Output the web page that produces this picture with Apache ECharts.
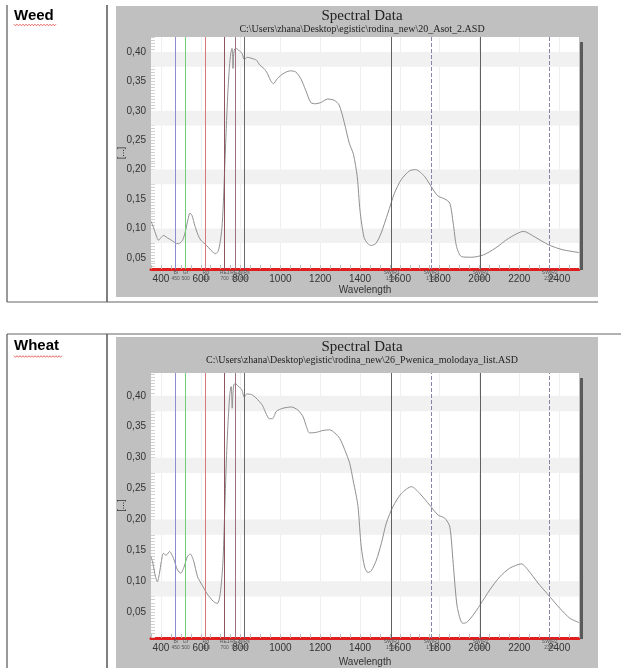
<!DOCTYPE html>
<html><head><meta charset="utf-8">
<script src="https://cdn.jsdelivr.net/npm/echarts@6.0.0/dist/echarts.min.js"></script>
<style>html,body{margin:0;padding:0;background:#fff}#c{width:621px;height:668px}</style>
</head><body><div id="c"></div>
<script>
// ---------------- data ----------------
const weedWavelength = [350,360,372,388,400,412,420,432,448,465,480,495,510,522,535,546,556,570,585,600,620,640,660,675,688,698,706,713,720,728,736,744,751,757,760,762,765,770,777,790,807,819,833,858,880,896,917,934,950,965,985,1018,1050,1077,1102,1127,1153,1178,1203,1237,1270,1295,1321,1346,1367,1386,1400,1420,1439,1456,1481,1506,1540,1573,1607,1649,1680,1725,1767,1792,1826,1851,1868,1885,1910,1961,2020,2078,2146,2222,2280,2348,2415,2500];
const weedReflectance = [0.112,0.104,0.092,0.080,0.084,0.088,0.087,0.084,0.081,0.077,0.074,0.075,0.081,0.094,0.114,0.126,0.122,0.105,0.090,0.080,0.074,0.067,0.060,0.057,0.062,0.078,0.100,0.140,0.200,0.270,0.330,0.375,0.398,0.406,0.395,0.372,0.395,0.405,0.406,0.403,0.398,0.387,0.391,0.389,0.386,0.378,0.372,0.364,0.352,0.346,0.355,0.364,0.368,0.366,0.355,0.335,0.314,0.312,0.314,0.320,0.318,0.310,0.280,0.245,0.226,0.188,0.130,0.085,0.074,0.071,0.075,0.092,0.126,0.160,0.183,0.198,0.200,0.188,0.166,0.155,0.150,0.143,0.109,0.069,0.052,0.051,0.055,0.066,0.083,0.095,0.085,0.072,0.064,0.059];

const wheatWavelength = [350,360,372,382,392,402,412,426,443,463,483,500,516,533,547,563,584,606,631,664,684,698,711,720,728,736,744,750,753,756,758,761,766,773,790,806,818,831,856,873,894,911,927,944,960,980,1013,1055,1088,1114,1131,1146,1181,1214,1248,1273,1298,1323,1348,1365,1380,1390,1406,1423,1440,1457,1482,1507,1532,1566,1608,1658,1700,1750,1792,1826,1851,1868,1888,1915,1935,1968,2002,2052,2102,2152,2211,2244,2294,2345,2404,2454,2500];
const wheatReflectance = [0.140,0.128,0.108,0.099,0.112,0.132,0.145,0.142,0.148,0.137,0.118,0.113,0.123,0.140,0.144,0.134,0.107,0.094,0.080,0.067,0.064,0.080,0.129,0.210,0.290,0.350,0.395,0.413,0.415,0.395,0.380,0.400,0.418,0.420,0.415,0.410,0.398,0.403,0.402,0.398,0.391,0.384,0.372,0.363,0.363,0.375,0.380,0.382,0.377,0.366,0.350,0.340,0.341,0.344,0.345,0.340,0.331,0.313,0.291,0.264,0.240,0.221,0.156,0.123,0.114,0.117,0.134,0.161,0.194,0.221,0.242,0.253,0.242,0.223,0.207,0.202,0.188,0.129,0.059,0.032,0.033,0.045,0.061,0.086,0.107,0.121,0.128,0.118,0.097,0.078,0.056,0.040,0.033];

const bandPositions = [474,524,625,720,773,818,1559,1760,2006,2353];
const bandNames = ['Bl','Gr','Rd','RE1','RE2','NIRs','SWIR1','SWIR1','SWIR2','SWIR2'];
const bandCentres = ['450','500','610','700','750','800','1550','1750','2080','2350'];

const xTickLabels = [400,600,800,1000,1200,1400,1600,1800,2000,2200,2400];
const yTickLabels = [0.05,0.10,0.15,0.20,0.25,0.30,0.35,0.40];
const shadedBands = [[0.375,0.40],[0.275,0.30],[0.175,0.20],[0.075,0.10]];

const panelTitles = ['Spectral Data','Spectral Data'];
const panelFiles = ['C:\\Users\\zhana\\Desktop\\egistic\\rodina_new\\20_Asot_2.ASD',
                    'C:\\Users\\zhana\\Desktop\\egistic\\rodina_new\\26_Pwenica_molodaya_list.ASD'];
const rowLabels = ['Weed','Wheat'];

// ---------------- styles ----------------
const bandStyles = [
  {color:'#8c8cd0',type:'solid'},{color:'#6fd06f',type:'solid'},{color:'#d87878',type:'solid'},
  {color:'#8c5560',type:'solid'},{color:'#a07080',type:'solid'},{color:'#6a6a6a',type:'solid'},
  {color:'#606060',type:'solid'},{color:'#8585a8',type:'dashed'},{color:'#606060',type:'solid'},{color:'#8585a8',type:'dashed'}
];
const SANS = 'Liberation Sans, Arial, sans-serif';
const SERIF = 'Liberation Serif, Times New Roman, serif';

const xMinor = []; for (let v = 350; v <= 2500; v += 50) xMinor.push(v);

const layouts = [
  {left:151, top:37, width:428, height:232, ymin:0.031, ymax:0.4255, titleTop:4, nameGap:16},
  {left:151, top:373, width:428, height:265, ymin:0.008, ymax:0.437, titleTop:335, nameGap:19}
];

function yMinorFor(lo, hi){ const a=[]; for(let k=Math.ceil(lo/0.005);k*0.005<=hi;k++) a.push(+(k*0.005).toFixed(3)); return a; }

const grids = [], xAxes = [], yAxes = [], series = [], titles = [];
layouts.forEach((L, i) => {
  grids.push({left:L.left, top:L.top, width:L.width, height:L.height, show:true, backgroundColor:'#ffffff', borderWidth:0});
  xAxes.push({
    type:'value', gridIndex:i, min:350, max:2500,
    name:'Wavelength', nameLocation:'middle', nameGap:L.nameGap, nameMoveOverlap:false,
    nameTextStyle:{fontFamily:SANS, fontSize:10, color:'#333'},
    axisLine:{show:true, lineStyle:{color:'#e01e1e', width:3}},
    axisTick:{show:true, inside:true, length:4, customValues:xMinor, lineStyle:{color:'#bbbbbb'}},
    axisLabel:{customValues:xTickLabels, margin:5, fontFamily:SANS, fontSize:10, color:'#333',
      formatter: v => String(v)},
    splitLine:{show:false}
  });
  xAxes.push({
    type:'value', gridIndex:i, min:350, max:2500, position:'bottom',
    axisLine:{show:false}, axisTick:{show:false, customValues:xTickLabels},
    axisLabel:{show:false, customValues:xTickLabels},
    splitLine:{show:true, lineStyle:{color:'#efefef', width:1}}
  });
  yAxes.push({
    type:'value', gridIndex:i, min:L.ymin, max:L.ymax,
    name:'[...]', nameLocation:'middle', nameRotate:90, nameGap:25, nameMoveOverlap:false,
    nameTextStyle:{fontFamily:SANS, fontSize:9, color:'#333'},
    axisLine:{show:false},
    axisTick:{show:true, inside:true, length:4, customValues:yMinorFor(L.ymin, L.ymax), lineStyle:{color:'#d0d0d0'}},
    axisLabel:{customValues:yTickLabels, margin:5, fontFamily:SANS, fontSize:10, color:'#333',
      formatter: v => v.toFixed(2).replace('.', ',')},
    splitLine:{show:false}
  });
  const wl = i === 0 ? weedWavelength : wheatWavelength;
  const rf = i === 0 ? weedReflectance : wheatReflectance;
  series.push({
    type:'line', xAxisIndex:i*2, yAxisIndex:i, showSymbol:false, smooth:0.25,
    data: wl.map((w,k)=>[w, rf[k]]),
    lineStyle:{color:'#8f8f8f', width:1}, silent:true,
    markArea:{silent:true, itemStyle:{color:'#f1f1f1'},
      data: shadedBands.map(b => [{yAxis:b[0]},{yAxis:b[1]}])},
    markLine:{silent:true, symbol:'none', animation:false,
      data: bandPositions.map((p,k)=>({xAxis:p, name:bandNames[k] + '\n' + bandCentres[k],
        lineStyle:{color:bandStyles[k].color, type:bandStyles[k].type, width:1}})),
      label:{show:true, position:'start', distance:1, fontFamily:SANS, fontSize:5, lineHeight:6, color:'#555',
        formatter: p => p.name}
    }
  });
  titles.push({text:panelTitles[i], subtext:panelFiles[i], left:357, top:L.titleTop, textAlign:'center', itemGap:0,
    textStyle:{fontFamily:SERIF, fontSize:15, fontWeight:'normal', color:'#222'},
    subtextStyle:{fontFamily:SERIF, fontSize:10, color:'#222'}});
});

// squiggle helper (decoration)
function squiggle(x0, x1, y){ const pts=[]; let up=true; for(let x=x0;x<=x1;x+=1.5){pts.push([x, y+(up?-0.8:0.8)]); up=!up;} return pts; }

const graphic = [
  {type:'rect', z:-100, shape:{x:116,y:6,width:482,height:291}, style:{fill:'#c0c0c0'}},
  {type:'rect', z:-100, shape:{x:116,y:337,width:482,height:331}, style:{fill:'#c0c0c0'}},
  {type:'rect', z:100, shape:{x:580,y:42,width:3,height:228}, style:{fill:'#5a5a5a'}},
  {type:'rect', z:100, shape:{x:580,y:378,width:3,height:261}, style:{fill:'#5a5a5a'}},
  {type:'line', shape:{x1:7,y1:5,x2:7,y2:302}, style:{stroke:'#555',lineWidth:1.2}},
  {type:'line', shape:{x1:107,y1:5,x2:107,y2:302}, style:{stroke:'#555',lineWidth:1.5}},
  {type:'line', shape:{x1:7,y1:302,x2:598,y2:302}, style:{stroke:'#666',lineWidth:1.2}},
  {type:'line', shape:{x1:7,y1:334,x2:621,y2:334}, style:{stroke:'#666',lineWidth:1.2}},
  {type:'line', shape:{x1:7,y1:334,x2:7,y2:668}, style:{stroke:'#555',lineWidth:1.2}},
  {type:'line', shape:{x1:107,y1:334,x2:107,y2:668}, style:{stroke:'#555',lineWidth:1.5}},
  {type:'text', left:14, top:8, style:{text:rowLabels[0], font:'bold 15px '+SANS, fill:'#000'}},
  {type:'text', left:14, top:338, style:{text:rowLabels[1], font:'bold 15px '+SANS, fill:'#000'}},
  {type:'polyline', shape:{points:squiggle(14,57,25)}, style:{stroke:'#e04040',lineWidth:0.8,fill:null}},
  {type:'polyline', shape:{points:squiggle(14,62,356.5)}, style:{stroke:'#e04040',lineWidth:0.8,fill:null}}
];

const chart = echarts.init(document.getElementById('c'), null, {renderer:'canvas'});
chart.setOption({
  animation:false, backgroundColor:'#ffffff',
  title:titles, grid:grids, xAxis:xAxes, yAxis:yAxes, series:series, graphic:graphic
});
</script></body></html>
